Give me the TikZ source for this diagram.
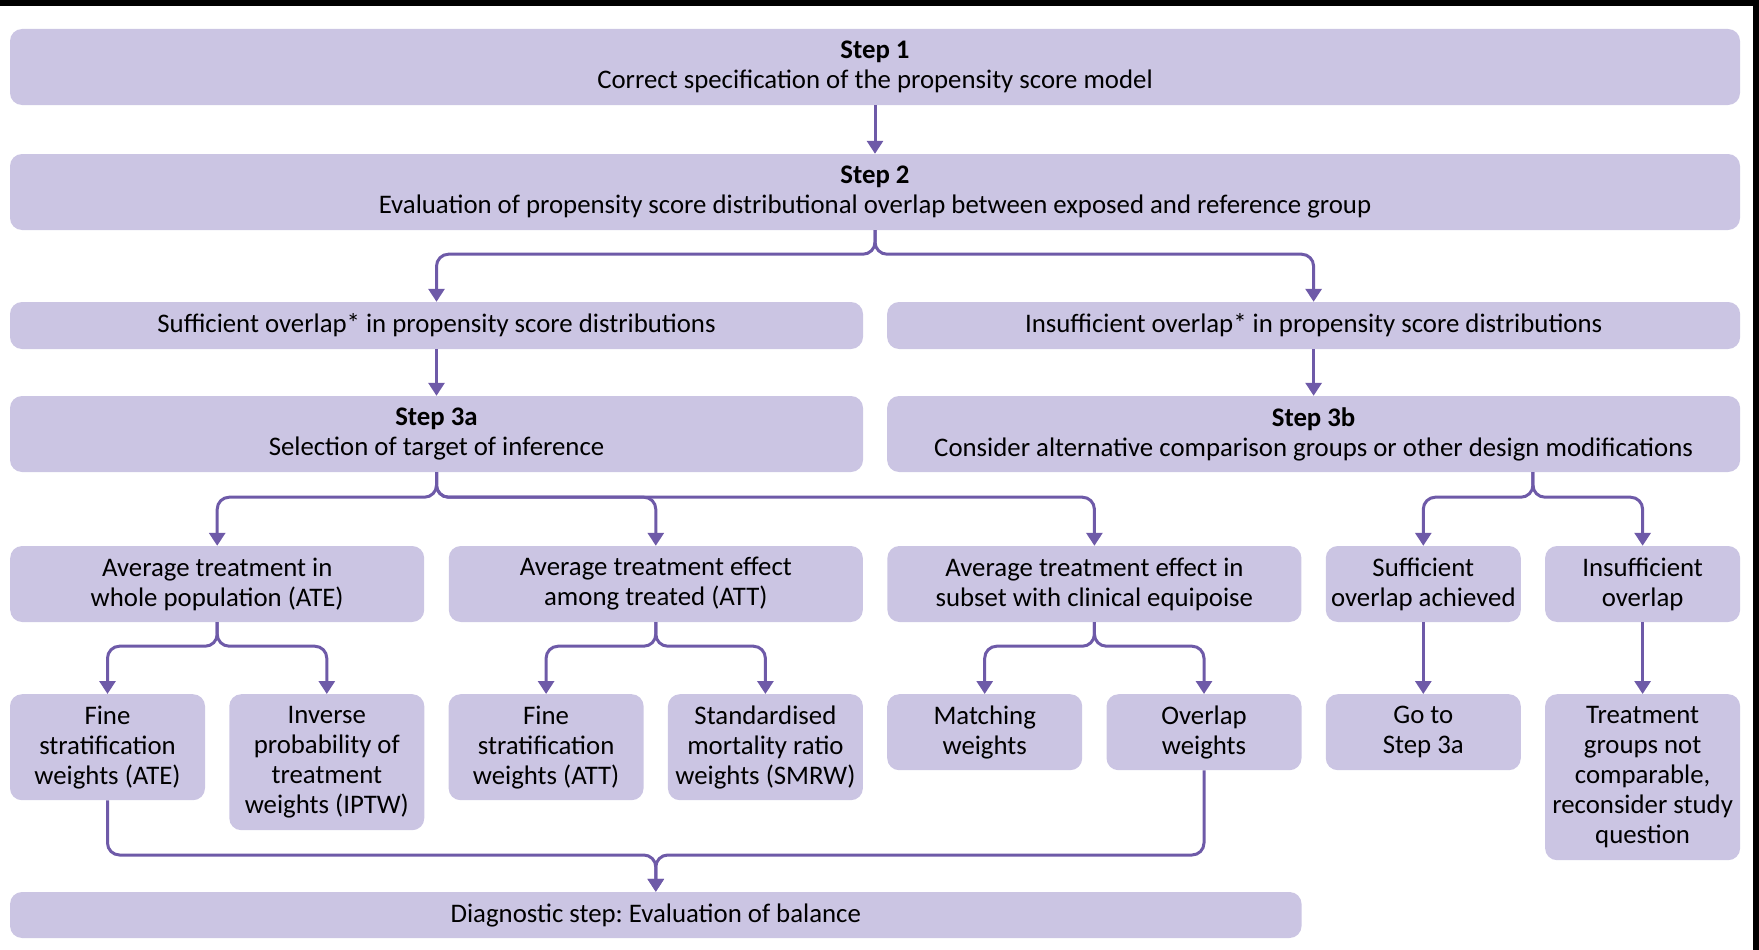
\documentclass[tikz,border=0pt]{standalone}
\usepackage{fontspec}
\setmainfont{Carlito}
\usetikzlibrary{arrows.meta,calc}
\definecolor{boxfill}{HTML}{CBC5E3}
\definecolor{linkcol}{HTML}{6E5AA8}
\frenchspacing
\begin{document}
\begin{tikzpicture}[x=1pt,y=-1pt,
    box/.style={fill=boxfill,rounded corners=12pt,align=center,inner sep=0pt,
      font=\fontsize{26.8}{30}\selectfont},
    wide/.style={box,minimum width=853pt},
    cell/.style={box,anchor=north,minimum width=195pt},
    link/.style={draw=linkcol,line width=3pt,rounded corners=12pt,
      -{Triangle[length=13pt,width=16pt]}}]
  \useasboundingbox (0,0) rectangle (1759,950);
  \fill (0,0) rectangle (1759,6);
  \fill (1753,0) rectangle (1759,950);

  % steps 1 and 2
  \node[box,minimum width=1730pt,minimum height=76pt] (s1) at (875,67)
    {\textbf{Step 1}\\Correct specification of the propensity score model};
  \node[box,minimum width=1730pt,minimum height=76pt] (s2) at (875,192)
    {\textbf{Step 2}\\Evaluation of propensity score distributional overlap between exposed and reference group};

  % overlap
  \node[wide,minimum height=47pt] (suf) at (436.5,325.5)
    {Sufficient overlap* in propensity score distributions};
  \node[wide,minimum height=47pt] (insuf) at (1313.6,325.5)
    {Insufficient overlap* in propensity score distributions};
  \node[wide,minimum height=76pt] (s3a) at (436.5,434)
    {\textbf{Step 3a}\\Selection of target of inference};
  \node[wide,minimum height=76pt] (s3b) at (1313.6,434)
    {\textbf{Step 3b}\\Consider alternative comparison groups or other design modifications};

  % targets
  \node[box,minimum width=414pt,minimum height=76pt] (ate) at (217.2,584)
    {Average treatment in\\whole population (ATE)};
  \node[box,minimum width=414pt,minimum height=76pt] (att) at (655.8,584)
    {Average treatment effect\\among treated (ATT)};
  \node[box,minimum width=414pt,minimum height=76pt] (sub) at (1094.4,584)
    {Average treatment effect in\\subset with clinical equipoise};
  \node[box,minimum width=195pt,minimum height=76pt] (ach) at (1423.3,584)
    {Sufficient\\overlap achieved};
  \node[box,minimum width=195pt,minimum height=76pt] (ins) at (1642.6,584)
    {Insufficient\\overlap};

  % weights
  \node[cell,minimum height=106pt] (fate) at (107.5,694)
    {Fine\\stratification\\weights (ATE)};
  \node[cell,minimum height=136pt] (iptw) at (326.8,694)
    {Inverse\\probability of\\treatment\\weights (IPTW)};
  \node[cell,minimum height=106pt] (fatt) at (546.1,694)
    {Fine\\stratification\\weights (ATT)};
  \node[cell,minimum height=106pt] (smrw) at (765.4,694)
    {Standardised\\mortality ratio\\weights (SMRW)};
  \node[cell,minimum height=76pt] (match) at (984.7,694)
    {Matching\\weights};
  \node[cell,minimum height=76pt] (olap) at (1204,694)
    {Overlap\\weights};
  \node[cell,minimum height=76pt] (goto) at (1423.3,694)
    {Go to\\Step 3a};
  \node[cell,minimum height=166pt] (tgrp) at (1642.6,694)
    {Treatment\\groups not\\comparable,\\reconsider study\\question};

  \node[box,minimum width=1291.5pt,minimum height=46pt] (diag) at (655.8,915)
    {Diagnostic step: Evaluation of balance};

  % connectors
  \draw[link] (s1.south) -- (s2.north);
  \draw[link] (s2.south) -- ++(0,24) -| (suf.north);
  \draw[link] (s2.south) -- ++(0,24) -| (insuf.north);
  \draw[link] (suf.south) -- (s3a.north);
  \draw[link] (insuf.south) -- (s3b.north);
  \foreach \t in {ate,att,sub}
    \draw[link] (s3a.south) -- ++(0,25) -| (\t.north);
  \coordinate (s3bfork) at ($(ach.north)!0.5!(ins.north)$);
  \draw[link] (s3bfork |- s3b.south) -- ++(0,25) -| (ach.north);
  \draw[link] (s3bfork |- s3b.south) -- ++(0,25) -| (ins.north);
  \foreach \p/\a/\b in {ate/fate/iptw,att/fatt/smrw,sub/match/olap} {
    \draw[link] (\p.south) -- ++(0,24) -| (\a.north);
    \draw[link] (\p.south) -- ++(0,24) -| (\b.north);
  }
  \draw[link] (ach.south) -- (goto.north);
  \draw[link] (ins.south) -- (tgrp.north);
  \coordinate (merge) at (diag.north |- 0,855);
  \draw[link] (fate.south) |- (merge) -- (diag.north);
  \draw[link] (olap.south) |- (merge) -- (diag.north);
\end{tikzpicture}
\end{document}
